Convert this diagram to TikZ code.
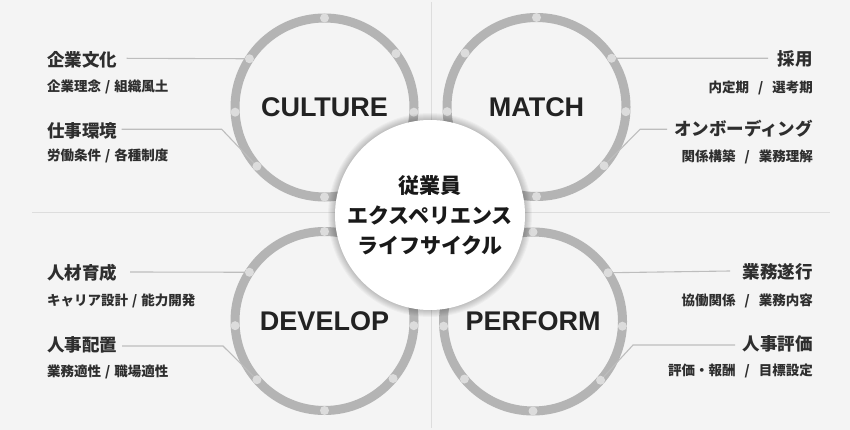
\documentclass[tikz,border=0pt]{standalone}
\usepackage{fontspec}
\setmainfont{Liberation Sans}
\newfontfamily\cjk{Noto Sans CJK JP}
\definecolor{bgc}{HTML}{F4F4F4}
\definecolor{ringc}{HTML}{B4B4B4}
\definecolor{dotc}{HTML}{DCDCDC}
\definecolor{linec}{HTML}{BDBDBD}
\definecolor{divc}{HTML}{DDDDDD}
\definecolor{txt}{HTML}{222222}
\definecolor{txttwo}{HTML}{2E2E2E}
\begin{document}
\begin{tikzpicture}[x=1pt,y=-1pt,
  ring/.style={circle, draw=ringc, line width=9pt, minimum size=179pt, inner sep=0pt,
    font=\bfseries\fontsize{27}{27}\selectfont, text=txt},
  dot/.style={circle, fill=dotc, minimum size=9pt, inner sep=0pt},
  conn/.style={draw=linec, line width=1.1pt},
  divider/.style={draw=divc, line width=1pt},
  lab/.style={inner sep=0pt, font=\cjk\bfseries\fontsize{17.5}{17.5}\selectfont, text=txttwo},
  sublab/.style={inner sep=0pt, font=\cjk\bfseries\fontsize{13.5}{13.5}\selectfont, text=txttwo},
  core/.style={circle, fill=white, minimum size=190pt, inner sep=0pt, align=center,
    font=\cjk\bfseries\fontsize{21}{30}\selectfont, text=black!90}]
\fill[bgc] (0,0) rectangle (850,430);
\useasboundingbox (0,0) rectangle (850,430);
% dividers
\coordinate (vt) at (431,2);
\coordinate (vb) at (431,428);
\coordinate (hl) at (32,213);
\coordinate (hr) at (830,213);
\draw[divider] (vt) -- (vb);
\draw[divider] (hl) -- (hr);
% rings
\node[ring] (culture) at (324.5,107.5) {CULTURE};
\node[ring] (match) at (536.5,107) {MATCH};
\node[ring] (develop) at (324.5,321) {DEVELOP};
\node[ring] (perform) at (533,321.5) {PERFORM};
% dots
\foreach \a [count=\i] in {-90,-37,3,40,90,139,177,213}{
  \node[dot] (cu\i) at ([shift={(\a:89.5)}]culture.center) {};
  \node[dot] (de\i) at ([shift={(\a:89.5)}]develop.center) {};
}
\foreach \a [count=\i] in {-90,-143,177,140,90,41,3,-33}{
  \node[dot] (ma\i) at ([shift={(\a:89.5)}]match.center) {};
  \node[dot] (pe\i) at ([shift={(\a:89.5)}]perform.center) {};
}
% labels left
\node[lab, anchor=west] (t1) at (47,60) {企業文化};
\node[sublab, anchor=west] (s1) at (47,87) {企業理念\hspace{4pt}/\hspace{4pt}組織風土};
\node[lab, anchor=west] (t2) at (47,131) {仕事環境};
\node[sublab, anchor=west] (s2) at (47,156) {労働条件\hspace{4pt}/\hspace{4pt}各種制度};
\node[lab, anchor=west] (t3) at (47,272.5) {人材育成};
\node[sublab, anchor=west] (s3) at (47,301) {キャリア設計\hspace{4pt}/\hspace{4pt}能力開発};
\node[lab, anchor=west] (t4) at (47,345) {人事配置};
\node[sublab, anchor=west] (s4) at (47,372) {業務適性\hspace{4pt}/\hspace{4pt}職場適性};
% labels right
\node[lab, anchor=east] (t5) at (813,59) {採用};
\node[sublab, anchor=east] (s5) at (813,87.5) {内定期\hspace{9pt}/\hspace{9pt}選考期};
\node[lab, anchor=east] (t6) at (813,129) {オンボーディング};
\node[sublab, anchor=east] (s6) at (813,156.5) {関係構築\hspace{9pt}/\hspace{9pt}業務理解};
\node[lab, anchor=east] (t7) at (813,271.5) {業務遂行};
\node[sublab, anchor=east] (s7) at (813,301) {協働関係\hspace{9pt}/\hspace{9pt}業務内容};
\node[lab, anchor=east] (t8) at (813,344) {人事評価};
\node[sublab, anchor=east] (s8) at (813,371) {評価・報酬\hspace{9pt}/\hspace{9pt}目標設定};
% connectors
\coordinate (l1) at (126.7,58.3);
\draw[conn] (l1) -- (cu8);
\coordinate (l2) at (121.7,129.3);
\coordinate (k2) at (221.7,129.3);
\draw[conn] (l2) -- (k2) -- (cu6);
\coordinate (l3) at (130,272);
\draw[conn] (l3) -- (de8);
\coordinate (l4) at (122,346);
\coordinate (k4) at (223,346);
\draw[conn] (l4) -- (k4) -- (de6);
\coordinate (l5) at (768,58.3);
\draw[conn] (l5) -- (ma8);
\coordinate (l6) at (667,129.3);
\coordinate (k6) at (640,129.3);
\draw[conn] (l6) -- (k6) -- (ma6);
\coordinate (l7) at (730,271);
\draw[conn] (l7) -- (pe8);
\coordinate (l8) at (735,345);
\coordinate (k8) at (633,345);
\draw[conn] (l8) -- (k8) -- (pe6);
% core shadow
\coordinate (cc) at (430,215);
\foreach \r in {1,...,7}{
  \fill[black, opacity=0.03] (cc) circle (95+\r);
}
\node[core] (core) at (cc) {従業員\\エクスペリエンス\\ライフサイクル};
\end{tikzpicture}
\end{document}
